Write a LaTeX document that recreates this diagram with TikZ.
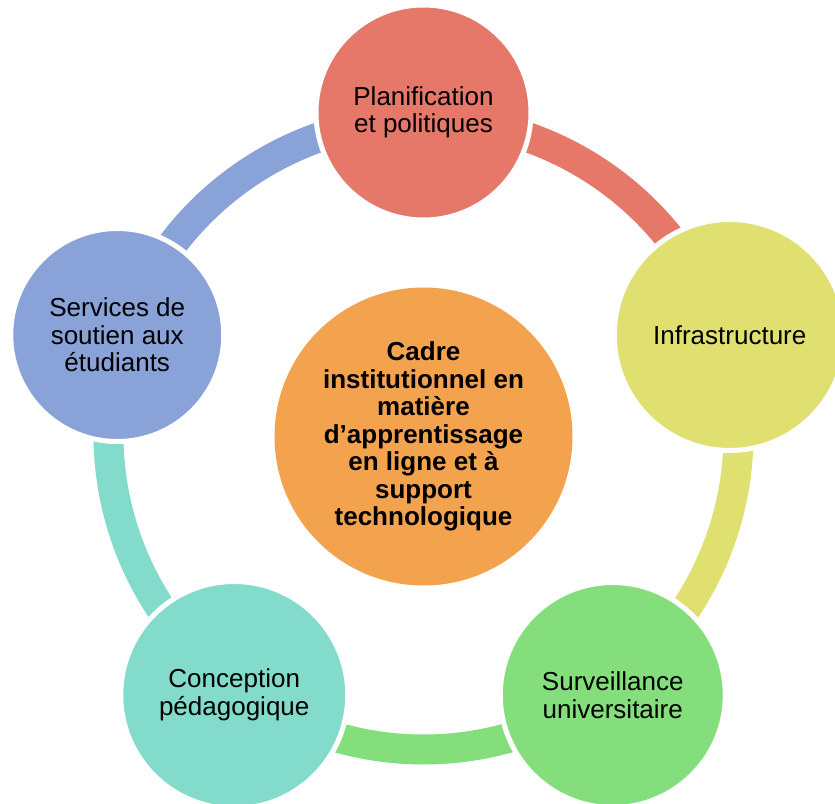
\documentclass[tikz,border=0pt]{standalone}
\usepackage{fontspec}
\setmainfont{Liberation Sans}
\definecolor{cred}{HTML}{E6786A}
\definecolor{cyel}{HTML}{E0E070}
\definecolor{cgrn}{HTML}{84DE7C}
\definecolor{cteal}{HTML}{82DBCB}
\definecolor{cblue}{HTML}{89A2D7}
\definecolor{corg}{HTML}{F3A24E}
\tikzset{
  bub/.style={circle, draw=white, line width=5pt, inner sep=0pt, align=center,
    font=\fontsize{26}{27.5}\selectfont, text=black},
  ringarc/.style={line width=30pt},
}
\begin{document}
\begin{tikzpicture}[x=1pt,y=1pt]
\useasboundingbox (-423.5,-368.5) rectangle (411.5,434.5);
% ring segments
\draw[ringarc, cred]  (90:315) arc[start angle=90, end angle=18, radius=315];
\draw[ringarc, cyel]  (18:315) arc[start angle=18, end angle=-54, radius=315];
\draw[ringarc, cgrn]  (-54:315) arc[start angle=-54, end angle=-126, radius=315];
\draw[ringarc, cteal] (-126:315) arc[start angle=-126, end angle=-198, radius=315];
\draw[ringarc, cblue] (162:315) arc[start angle=162, end angle=90, radius=315];
% center
\node[bub, fill=corg, minimum size=298pt, line width=0pt, draw=none, font=\fontsize{26}{27.5}\selectfont\bfseries] (center) at (0,-2)
  {Cadre\\institutionnel en\\matière\\d’apprentissage\\en ligne et à\\support\\technologique};
% outer circles
\node[bub, fill=cred,  minimum size=215pt] (plan) at (90:322) {Planification\\et politiques};
\node[bub, fill=cyel,  minimum size=231pt] (infra) at (18:322) {Infrastructure};
\node[bub, fill=cgrn,  minimum size=225pt] (surv) at (-54:322) {Surveillance\\universitaire};
\node[bub, fill=cteal, minimum size=227pt] (conc) at (-126:322) {Conception\\pédagogique};
\node[bub, fill=cblue, minimum size=213pt] (serv) at (162:322) {Services de\\soutien aux\\étudiants};
\end{tikzpicture}
\end{document}
